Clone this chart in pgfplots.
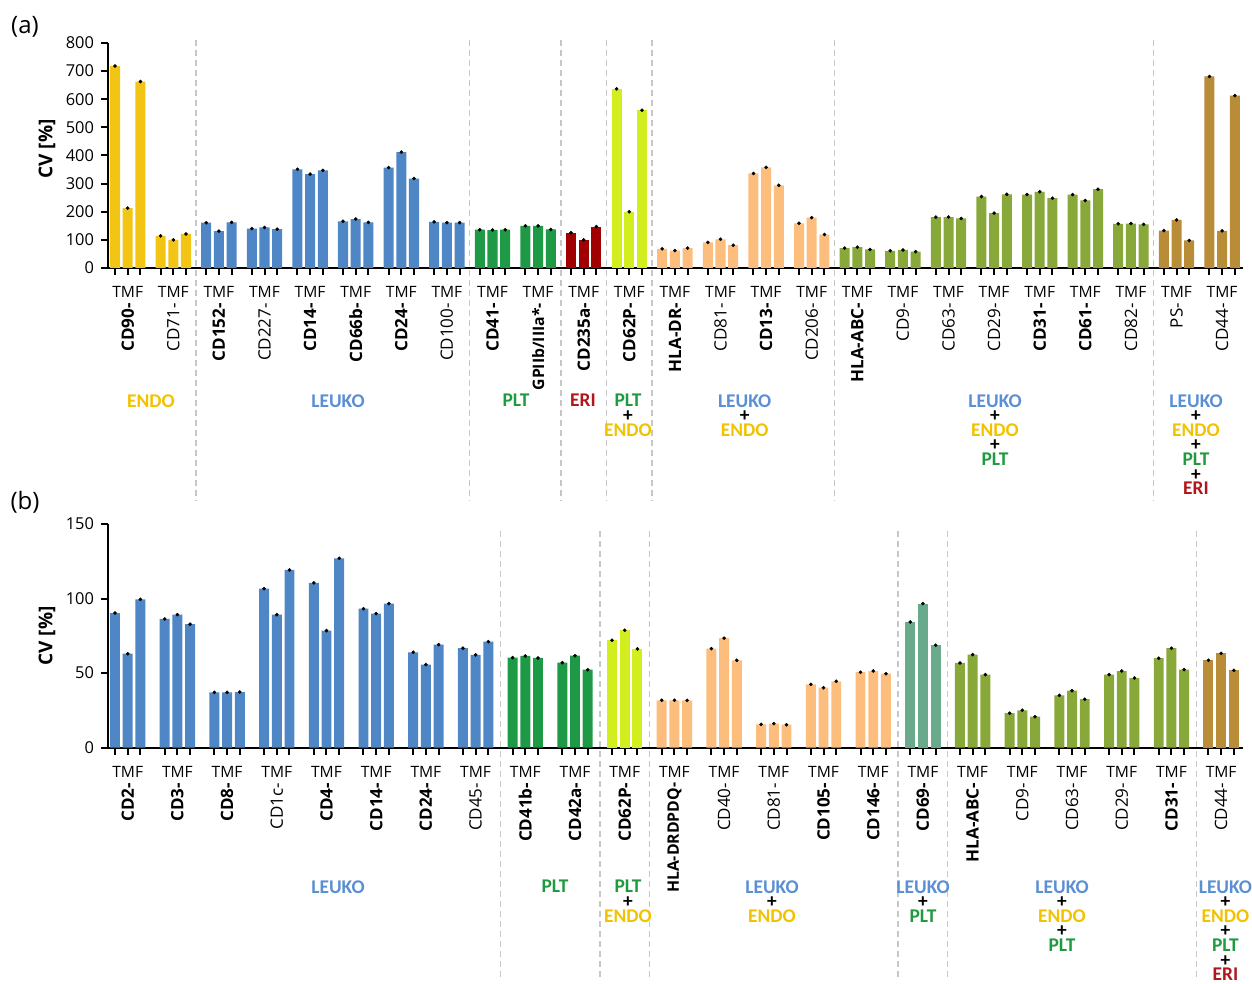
\documentclass[border=0pt]{standalone}
\usepackage{pgfplots}
\pgfplotsset{compat=1.18}
\usepackage{pgfplotstable}
\usepackage{graphicx}
\usepackage{fontspec}
\setmainfont{Open Sans}
\newfontfamily\carlito{Carlito}

\definecolor{cEndo}{HTML}{F2C414}
\definecolor{cLeuko}{HTML}{4F86C6}
\definecolor{cPlt}{HTML}{1E9945}
\definecolor{cEri}{HTML}{A00000}
\definecolor{cPE}{HTML}{D2EE1E}
\definecolor{cLE}{HTML}{FDBE7D}
\definecolor{cLEP}{HTML}{89A83A}
\definecolor{cAll}{HTML}{B98C37}
\definecolor{cLP}{HTML}{69AA8C}
\definecolor{tEndo}{HTML}{F2C200}
\definecolor{tLeuko}{HTML}{5B8FD4}
\definecolor{tPlt}{HTML}{1F9A3E}
\definecolor{tEri}{HTML}{B0161C}

% ---------- panel (a) data ----------
\pgfplotstableread{
g T M F
0 718 213 663
1 114 100 121
}\endoA
\pgfplotstableread{
g T M F
2 161 131 162
3 140 144 138
4 351 334 347
5 166 174 162
6 357 412 318
7 164 161 161
}\leukoA
\pgfplotstableread{
g T M F
8 136 135 136
9 150 150 137
}\pltA
\pgfplotstableread{
g T M F
10 125 100 147
}\eriA
\pgfplotstableread{
g T M F
11 637 200 561
}\peA
\pgfplotstableread{
g T M F
12 68 62 71
13 91 102 81
14 336 358 294
15 159 179 119
}\leA
\pgfplotstableread{
g T M F
16 71 74 66
17 61 64 58
18 181 181 176
19 254 195 262
20 261 271 248
21 261 240 280
22 157 158 155
}\lepA
\pgfplotstableread{
g T M F
23 133 171 98
24 681 132 613
}\allA

% ---------- panel (b) data ----------
\pgfplotstableread{
g T M F
0 90.3 63.0 99.5
1 86.3 89.2 82.8
2 37.1 37.1 37.3
3 106.6 89.2 119.2
4 110.5 78.5 127.0
5 93.2 89.9 96.6
6 64.0 55.7 69.1
7 66.7 62.2 71.1
}\leukoB
\pgfplotstableread{
g T M F
8 60.4 61.5 60.2
9 57.0 61.7 52.3
}\pltB
\pgfplotstableread{
g T M F
10 72.0 78.7 66.2
}\peB
\pgfplotstableread{
g T M F
11 31.8 31.8 31.8
12 66.4 73.4 58.6
13 15.7 16.1 15.4
14 42.5 40.2 44.5
15 50.6 51.4 49.6
}\leB
\pgfplotstableread{
g T M F
16 84.3 96.6 68.7
}\lpB
\pgfplotstableread{
g T M F
17 56.8 62.4 49.0
18 23.1 25.1 20.8
19 35.1 38.2 32.5
20 49.0 51.4 46.7
21 60.0 66.7 52.3
}\lepB
\pgfplotstableread{
g T M F
22 58.6 63.3 51.9
}\allB

\pgfplotsset{
  bars/.style={ybar, bar shift=0pt, draw=none, mark=*, mark size=0.8pt,
    mark options={fill=black, draw=black, line width=0.2pt}},
  panel/.style={
    anchor=south west, scale only axis, width=567.5pt,
    axis lines=left, axis line style={-, line width=1pt},
    tick align=outside, major tick length=3.5pt, minor tick length=3.5pt,
    tick style={black, line width=1pt},
    clip=false, ymin=0,
    /pgf/number format/assume math mode=true,
    yticklabel style={font=\fontsize{8.2}{9}\selectfont},
    xticklabel style={font=\fontsize{7.8}{9}\selectfont, align=center, anchor=north, inner sep=1pt, yshift=-4.5pt},
    extra x tick labels={},
  },
}
\tikzset{sep/.style={draw=black!22, line width=0.7pt, dash pattern=on 3pt off 2pt}}

\newcommand{\tri}[3]{%
  \addplot[bars, fill=#2] table[x expr=\thisrow{g}-#3, y=T] {#1};
  \addplot[bars, fill=#2] table[x expr=\thisrow{g}, y=M] {#1};
  \addplot[bars, fill=#2] table[x expr=\thisrow{g}+#3, y=F] {#1};
}
\newcommand{\nm}[1]{TMF\\[1.8pt]\rotatebox{90}{\fontsize{8.5}{9}\selectfont #1}}
\newcommand{\bn}[1]{TMF\\[1.8pt]\rotatebox{90}{\fontsize{8.5}{9}\selectfont\bfseries #1}}
\newcommand{\bs}[1]{TMF\\[1.8pt]\rotatebox{90}{\fontsize{7.9}{9}\selectfont\bfseries #1}}

\newcommand{\LE}{\textcolor{tLeuko}{LEUKO}}
\newcommand{\EN}{\textcolor{tEndo}{ENDO}}
\newcommand{\PL}{\textcolor{tPlt}{PLT}}
\newcommand{\ER}{\textcolor{tEri}{ERI}}
\newcommand{\PP}{\\\textcolor{black}{+}\\}

\tikzset{grp/.style={anchor=north, align=center, inner sep=0pt,
  font={\carlito\bfseries\fontsize{9.7}{7.3}\selectfont\lineskiplimit=-20pt\relax}}}

\begin{document}
\begin{tikzpicture}
\useasboundingbox (0,0) rectangle (626pt,492pt);

% ================= panel (a) =================
\begin{axis}[panel,
  at={(54pt,358pt)}, height=112.5pt,
  xmin=-0.432, xmax=24.458, ymax=800,
  ytick={0,100,...,800},
  bar width=0.22,
  xtick={0,...,24},
  minor xtick={-0.2785,0.7215,...,23.73},
  extra x ticks={0.2785,1.2785,...,24.29},
  xticklabels={\bn{CD90-},\nm{CD71-},\bn{CD152-},\nm{CD227-},\bn{CD14-},\bn{CD66b-},\bn{CD24-},\nm{CD100-},
    \bn{CD41-},\bs{GPIIb/IIIa*-},\bn{CD235a-},\bn{CD62P-},\bn{HLA-DR-},\nm{CD81-},\bn{CD13-},\nm{CD206-},
    \bn{HLA-ABC-},\nm{CD9-},\nm{CD63-},\nm{CD29-},\bn{CD31-},\bn{CD61-},\nm{CD82-},\nm{PS-},\nm{CD44-}},
]
\pgfplotsinvokeforeach{1.5,7.5,9.5,10.5,11.5,15.5,22.5}{
  \draw[sep] (axis cs:#1,811) -- (axis cs:#1,-825);
}
\tri{\endoA}{cEndo}{0.2785}
\tri{\leukoA}{cLeuko}{0.2785}
\tri{\pltA}{cPlt}{0.2785}
\tri{\eriA}{cEri}{0.2785}
\tri{\peA}{cPE}{0.2785}
\tri{\leA}{cLE}{0.2785}
\tri{\lepA}{cLEP}{0.2785}
\tri{\allA}{cAll}{0.2785}
\end{axis}

% ================= panel (b) =================
\begin{axis}[panel,
  at={(54pt,118.15pt)}, height=111.85pt,
  xmin=-0.396, xmax=22.44, ymax=150,
  ytick={0,50,100,150},
  bar width=0.2,
  xtick={0,...,22},
  minor xtick={-0.2555,0.7445,...,21.75},
  extra x ticks={0.2555,1.2555,...,22.26},
  xticklabels={\bn{CD2-},\bn{CD3-},\bn{CD8-},\nm{CD1c-},\bn{CD4-},\bn{CD14-},\bn{CD24-},\nm{CD45-},
    \bn{CD41b-},\bn{CD42a-},\bn{CD62P-},\bs{HLA-DRDPDQ-},\nm{CD40-},\nm{CD81-},\bn{CD105-},\bn{CD146-},
    \bn{CD69-},\bn{HLA-ABC-},\nm{CD9-},\nm{CD63-},\nm{CD29-},\bn{CD31-},\nm{CD44-}},
]
\pgfplotsinvokeforeach{7.5,9.5,10.5,15.5,16.5,21.5}{
  \draw[sep] (axis cs:#1,145.3) -- (axis cs:#1,-155.8);
}
\tri{\leukoB}{cLeuko}{0.2555}
\tri{\pltB}{cPlt}{0.2555}
\tri{\peB}{cPE}{0.2555}
\tri{\leB}{cLE}{0.2555}
\tri{\lpB}{cLP}{0.2555}
\tri{\lepB}{cLEP}{0.2555}
\tri{\allB}{cAll}{0.2555}
\end{axis}

% ---------- titles and axis labels ----------
\node[font=\fontsize{12}{14}\selectfont] at (12.5pt,478.5pt) {(a)};
\node[font=\fontsize{12}{14}\selectfont] at (12.5pt,241pt) {(b)};
\node[rotate=90, font=\bfseries\fontsize{9.5}{11}\selectfont] at (23.5pt,417.5pt) {CV [\%]};
\node[rotate=90, font=\bfseries\fontsize{9.5}{11}\selectfont] at (23.5pt,174pt) {CV [\%]};

% ---------- group labels (a) ----------
\node[grp] at (75.5pt,295pt) {\EN};
\node[grp] at (169pt,295pt) {\LE};
\node[grp] at (258pt,295pt) {\PL};
\node[grp] at (291.5pt,295pt) {\ER};
\node[grp] at (314pt,295pt) {\PL\PP\EN};
\node[grp] at (372.3pt,295pt) {\LE\PP\EN};
\node[grp] at (497.5pt,295pt) {\LE\PP\EN\PP\PL};
\node[grp] at (598pt,295pt) {\LE\PP\EN\PP\PL\PP\ER};

% ---------- group labels (b) ----------
\node[grp] at (169pt,52pt) {\LE};
\node[grp] at (277.5pt,52pt) {\PL};
\node[grp] at (314pt,52pt) {\PL\PP\EN};
\node[grp] at (386pt,52pt) {\LE\PP\EN};
\node[grp] at (461.5pt,52pt) {\LE\PP\PL};
\node[grp] at (531pt,52pt) {\LE\PP\EN\PP\PL};
\node[grp] at (612.7pt,52pt) {\LE\PP\EN\PP\PL\PP\ER};
\end{tikzpicture}
\end{document}
